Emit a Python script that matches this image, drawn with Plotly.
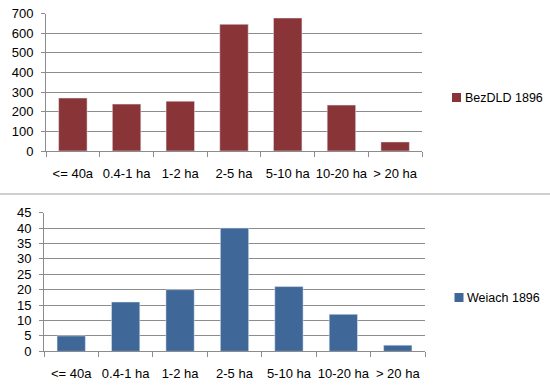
import plotly.graph_objects as go

categories = ["<= 40a", "0.4-1 ha", "1-2 ha", "2-5 ha", "5-10 ha", "10-20 ha", "> 20 ha"]
bez_values = [270, 239, 254, 646, 678, 234, 46]
weiach_values = [5, 16, 20, 40, 21, 12, 2]
bez_name = "BezDLD 1896"
weiach_name = "Weiach 1896"
bez_ticks = [0, 100, 200, 300, 400, 500, 600, 700]
weiach_ticks = [0, 5, 10, 15, 20, 25, 30, 35, 40, 45]

W, H = 550, 386
RED = "#893537"
BLUE = "#3F6797"
GRID = "#8C8C8C"
FONT = "Liberation Sans, Arial, sans-serif"

def px_x(v):
    return v / W

def px_y(v):
    return 1 - v / H

fig = go.Figure()
fig.add_trace(go.Bar(x=categories, y=bez_values, name=bez_name, marker_color=RED,
                     width=0.53, xaxis="x", yaxis="y", showlegend=False))
fig.add_trace(go.Bar(x=categories, y=weiach_values, name=weiach_name, marker_color=BLUE,
                     width=0.52, xaxis="x2", yaxis="y2", showlegend=False))

common_x = dict(type="category", tickson="boundaries", ticks="outside", ticklen=5,
                tickcolor=GRID, showline=True, linecolor=GRID, linewidth=1,
                showgrid=False, tickfont=dict(family=FONT, size=13, color="#000"),
                ticklabelstandoff=10, tickangle=0, automargin=False)
common_y = dict(ticks="outside", ticklen=4, tickcolor=GRID, showline=True, linecolor=GRID,
                showgrid=True, gridcolor=GRID, gridwidth=1, zeroline=False,
                tickfont=dict(family=FONT, size=13, color="#000"), automargin=False,
                ticklabelstandoff=5)

# legend keys (square + label) for each panel
legend_items = [
    (bez_name, RED, 452, 461, 93, 102, 463, 97.5),
    (weiach_name, BLUE, 454.5, 463.5, 293, 302, 465, 297.5),
]
shapes = [dict(type="line", xref="paper", yref="paper", x0=0, x1=1,
               y0=px_y(194), y1=px_y(194), line=dict(color="#A0A0A0", width=1))]
annotations = []
for name, color, x0, x1, y0, y1, tx, ty in legend_items:
    shapes.append(dict(type="rect", xref="paper", yref="paper",
                       x0=px_x(x0), x1=px_x(x1), y0=px_y(y1), y1=px_y(y0),
                       fillcolor=color, line=dict(width=0)))
    annotations.append(dict(text=name, xref="paper", yref="paper", x=px_x(tx), y=px_y(ty),
                            xanchor="left", yanchor="middle", showarrow=False,
                            font=dict(family=FONT, size=12.5, color="#000")))

fig.update_layout(
    width=W, height=H,
    margin=dict(l=0, r=0, t=0, b=0, autoexpand=False),
    paper_bgcolor="white", plot_bgcolor="white",
    font=dict(family=FONT, size=13, color="#000"),
    showlegend=False,
    xaxis=dict(domain=[px_x(46), px_x(422)], anchor="y", **common_x),
    yaxis=dict(domain=[px_y(151), px_y(13.7)], anchor="x", range=[0, 700],
               tickvals=bez_ticks, **common_y),
    xaxis2=dict(domain=[px_x(44), px_x(425)], anchor="y2", **common_x),
    yaxis2=dict(domain=[px_y(351.3), px_y(212.7)], anchor="x2", range=[0, 45],
                tickvals=weiach_ticks, **common_y),
    shapes=shapes,
    annotations=annotations,
)

fig.write_html("out.html", config={"displayModeBar": False},
               post_script="document.body.style.margin='0';")
